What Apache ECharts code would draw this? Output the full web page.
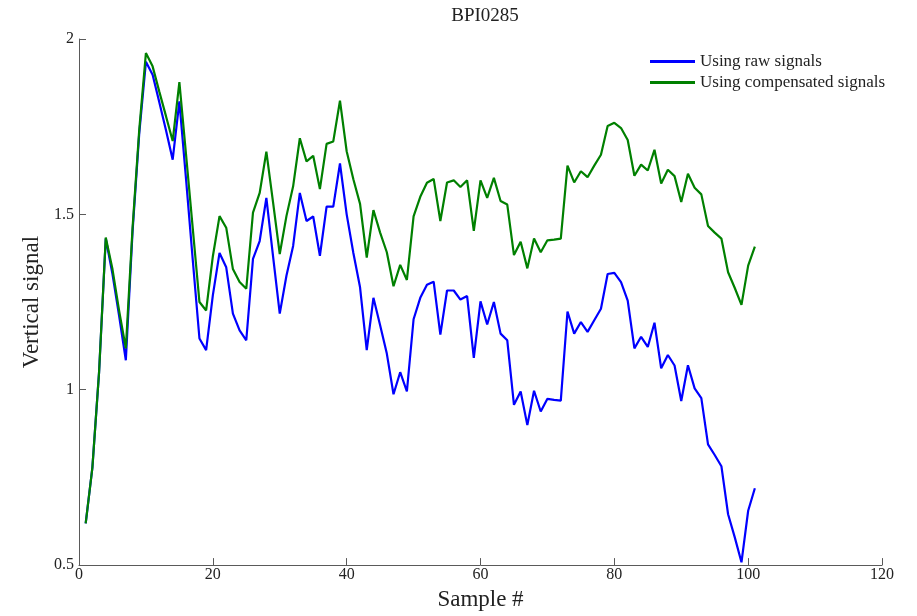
<!DOCTYPE html>
<html>
<head>
<meta charset="utf-8">
<script src="https://cdn.jsdelivr.net/npm/echarts@6/dist/echarts.min.js"></script>
<style>
  html, body { margin: 0; padding: 0; background: #fff; }
  #chart { width: 917px; height: 616px; }
</style>
</head>
<body>
<div id="chart"></div>
<script>
// Vertical signal per sample, BPI0285
const rawSignal = [
  0.619, 0.778, 1.05, 1.431, 1.33, 1.21, 1.084, 1.45, 1.73, 1.935,
  1.898, 1.82, 1.74, 1.656, 1.822, 1.60, 1.37, 1.146, 1.113, 1.269,
  1.390, 1.349, 1.217, 1.169, 1.141, 1.373, 1.424, 1.547, 1.38, 1.217,
  1.325, 1.41, 1.561, 1.481, 1.494, 1.382, 1.522, 1.522, 1.645, 1.50,
  1.39, 1.292, 1.113, 1.262, 1.184, 1.103, 0.987, 1.050, 0.995, 1.201,
  1.262, 1.299, 1.308, 1.157, 1.283, 1.283, 1.257, 1.267, 1.091, 1.252,
  1.186, 1.250, 1.160, 1.141, 0.957, 0.995, 0.899, 0.997, 0.938, 0.974,
  0.971, 0.969, 1.223, 1.160, 1.193, 1.165, 1.198, 1.231, 1.330, 1.333,
  1.307, 1.254, 1.118, 1.151, 1.122, 1.191, 1.061, 1.099, 1.069, 0.968,
  1.070, 1.004, 0.976, 0.844, 0.814, 0.782, 0.645, 0.579, 0.508, 0.655,
  0.719
];

const compensatedSignal = [
  0.619, 0.778, 1.05, 1.434, 1.344, 1.225, 1.118, 1.46, 1.74, 1.960,
  1.922, 1.85, 1.78, 1.709, 1.877, 1.67, 1.46, 1.250, 1.226, 1.38,
  1.495, 1.462, 1.344, 1.307, 1.288, 1.505, 1.561, 1.679, 1.534, 1.387,
  1.495, 1.580, 1.717, 1.651, 1.667, 1.572, 1.701, 1.708, 1.824, 1.68,
  1.60, 1.530, 1.377, 1.512, 1.448, 1.392, 1.295, 1.356, 1.313, 1.494,
  1.550, 1.590, 1.601, 1.481, 1.591, 1.597, 1.578, 1.597, 1.453, 1.597,
  1.547, 1.604, 1.538, 1.528, 1.384, 1.422, 1.346, 1.431, 1.392, 1.426,
  1.428, 1.431, 1.639, 1.591, 1.623, 1.606, 1.639, 1.670, 1.752, 1.761,
  1.746, 1.712, 1.610, 1.642, 1.625, 1.684, 1.588, 1.627, 1.609, 1.535,
  1.616, 1.576, 1.557, 1.467, 1.448, 1.431, 1.335, 1.290, 1.242, 1.354,
  1.408
];

const seriesNames = ['Using raw signals', 'Using compensated signals'];
const xTicks = [0, 20, 40, 60, 80, 100, 120];
const yTicks = [0.5, 1, 1.5, 2];

// pair each value with its sample number (samples are numbered from 1)
const withSampleNo = arr => arr.map((v, i) => [i + 1, v]);

const serif = 'Liberation Serif';
const axisGrey = '#5a5a5a';

const chart = echarts.init(document.getElementById('chart'), null, { renderer: 'canvas' });

chart.setOption({
  backgroundColor: '#ffffff',
  animation: false,
  title: {
    text: 'BPI0285',
    left: 480,
    top: 2,
    textAlign: 'center',
    textStyle: { fontFamily: serif, fontSize: 19, fontWeight: 'normal', color: '#222' }
  },
  legend: {
    orient: 'vertical',
    left: 645,
    top: 48,
    itemWidth: 45,
    itemHeight: 3,
    itemGap: 4,
    icon: 'rect',
    data: seriesNames,
    textStyle: { fontFamily: serif, fontSize: 17, color: '#222', padding: [0, 0, 0, 0] }
  },
  grid: { left: 79, right: 35, top: 39, bottom: 48, containLabel: false },
  xAxis: {
    type: 'value',
    min: xTicks[0],
    max: xTicks[xTicks.length - 1],
    interval: xTicks[1] - xTicks[0],
    name: 'Sample #',
    nameLocation: 'middle',
    nameGap: 21,
    nameTextStyle: { fontFamily: serif, fontSize: 23, color: '#222' },
    axisLine: { show: true, lineStyle: { color: axisGrey, width: 1 } },
    axisTick: { show: true, inside: true, length: 7, lineStyle: { color: axisGrey } },
    axisLabel: { fontFamily: serif, fontSize: 16, color: '#222', margin: 2 },
    splitLine: { show: false }
  },
  yAxis: {
    type: 'value',
    min: yTicks[0],
    max: yTicks[yTicks.length - 1],
    interval: yTicks[1] - yTicks[0],
    name: 'Vertical signal',
    nameLocation: 'middle',
    nameGap: 32,
    nameRotate: 90,
    nameTextStyle: { fontFamily: serif, fontSize: 23, color: '#222' },
    axisLine: { show: true, lineStyle: { color: axisGrey, width: 1 } },
    axisTick: { show: true, inside: true, length: 7, lineStyle: { color: axisGrey } },
    axisLabel: { fontFamily: serif, fontSize: 16, color: '#222', margin: 5 },
    splitLine: { show: false }
  },
  series: [
    {
      name: seriesNames[0],
      type: 'line',
      data: withSampleNo(rawSignal),
      showSymbol: false,
      symbol: 'none',
      lineStyle: { color: '#0000ff', width: 2.2 },
      itemStyle: { color: '#0000ff' },
      z: 2
    },
    {
      name: seriesNames[1],
      type: 'line',
      data: withSampleNo(compensatedSignal),
      showSymbol: false,
      symbol: 'none',
      lineStyle: { color: '#008000', width: 2.2 },
      itemStyle: { color: '#008000' },
      z: 3
    }
  ]
});
</script>
</body>
</html>
